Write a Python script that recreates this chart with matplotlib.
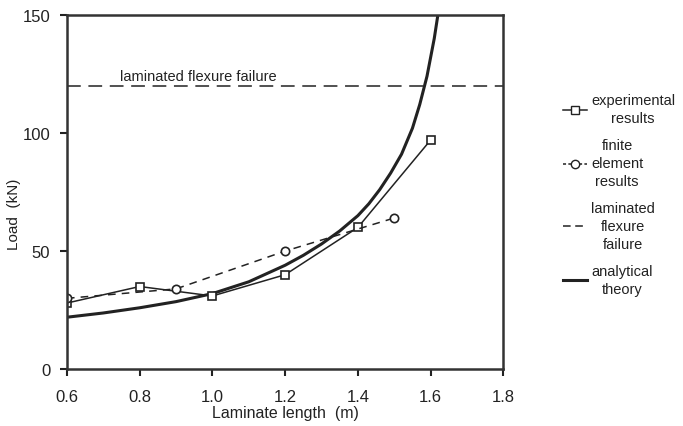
import matplotlib
matplotlib.use("Agg")
import matplotlib.pyplot as plt
from matplotlib.lines import Line2D

plt.rcParams['font.family'] = ['Liberation Sans', 'DejaVu Sans']

# experimental results (squares)
exp_x = [0.6, 0.8, 1.0, 1.2, 1.4, 1.6]
exp_y = [28, 35, 31, 40, 60, 97]

# finite element results (circles)
fe_x = [0.6, 0.9, 1.2, 1.5]
fe_y = [30, 34, 50, 64]

# analytical theory curve
th_x = [0.6, 0.7, 0.8, 0.9, 1.0, 1.1, 1.2, 1.25, 1.3, 1.35, 1.4, 1.43, 1.46,
        1.49, 1.52, 1.55, 1.57, 1.59, 1.6, 1.61, 1.62]
th_y = [22, 23.8, 26, 28.6, 32, 37, 44, 48.2, 53, 58.5, 65, 70, 76,
        83, 91, 102, 112, 124, 132, 140, 150]

flexure_failure = 120

fig = plt.figure(figsize=(6.83, 4.27), dpi=100)
ax = fig.add_axes([0.098, 0.133, 0.639, 0.83])

ax.plot(th_x, th_y, color='#222222', lw=2.2, solid_joinstyle='round')
ax.plot(exp_x, exp_y, color='#222222', lw=1.1, marker='s', ms=6,
        mfc='white', mec='#222222', mew=1.2)
ax.plot(fe_x, fe_y, color='#222222', lw=1.1, ls=(0, (5, 4)), marker='o', ms=6,
        mfc='white', mec='#222222', mew=1.2)
ax.axhline(flexure_failure, color='#222222', lw=1.1, ls=(0, (9, 5)))
ax.text(0.745, 122.5, 'laminated flexure failure', fontsize=10.5, color='#222222')

ax.set_xlim(0.6, 1.8)
ax.set_ylim(0, 150)
ax.set_xticks([0.6, 0.8, 1.0, 1.2, 1.4, 1.6, 1.8])
ax.set_xticklabels(['0.6', '0.8', '1.0', '1.2', '1.4', '1.6', '1.8'])
ax.set_yticks([0, 50, 100, 150])
ax.tick_params(direction='out', length=5, width=1.5, labelsize=12, colors='#222222')
ax.tick_params(axis='x', pad=9)
ax.tick_params(axis='y', pad=7)
for s in ax.spines.values():
    s.set_linewidth(1.8)
    s.set_color('#333333')
ax.set_xlabel('Laminate length  (m)', fontsize=11.5, color='#222222', labelpad=1)
ax.set_ylabel('Load  (kN)', fontsize=11, color='#222222')
ax.yaxis.set_label_coords(-0.105, 0.44)

handles = [
    Line2D([], [], color='#222222', lw=1.1, marker='s', ms=6, mfc='white', mec='#222222'),
    Line2D([], [], color='#222222', lw=1.1, ls=(0, (2, 1.5)), marker='o', ms=6, mfc='white', mec='#222222'),
    Line2D([], [], color='#222222', lw=1.1, ls=(0, (5, 3))),
    Line2D([], [], color='#222222', lw=2.2),
]
labels = ['experimental\nresults', 'finite\nelement\nresults',
          'laminated\nflexure\nfailure', 'analytical\ntheory']
leg = ax.legend(handles, labels, loc='upper left', bbox_to_anchor=(1.124, 0.795),
                frameon=False, fontsize=10.5, handlelength=1.6, handletextpad=0.3,
                labelspacing=0.9, borderaxespad=0)
for t in leg.get_texts():
    t.set_multialignment('center')
    t.set_linespacing(1.35)
    t.set_color('#222222')

fig.savefig('out.png', dpi=100)
